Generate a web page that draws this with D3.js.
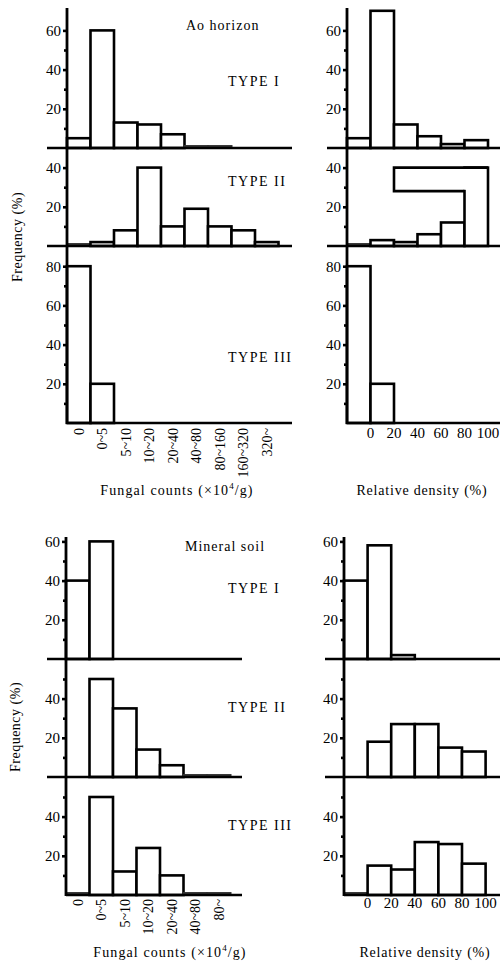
<!DOCTYPE html>
<html><head><meta charset="utf-8">
<script src="https://cdn.jsdelivr.net/npm/d3@7"></script>
<style>
html,body{margin:0;padding:0;background:#fff;}
text{font-family:"Liberation Serif","Times New Roman",serif;fill:#000;}
</style></head>
<body>
<svg id="chart" width="500" height="965"></svg>
<script>
// ---- data ----
const fungalCatsAo = ["0","0~5","5~10","10~20","20~40","40~80","80~160","160~320","320~"];
const fungalCatsMin = ["0","0~5","5~10","10~20","20~40","40~80","80~"];
const densityCats = ["0","0-20","20-40","40-60","60-80","80-100"];
const densityTickLabels = ["0","20","40","60","80","100"];

const aoFungalI   = [5,60,13,12,7,1,1,0,0];
const aoFungalII  = [1,2,8,40,10,19,10,8,2];
const aoFungalIII = [80,20,0,0,0,0,0,0,0];

const aoDensityI   = [5,70,12,6,2,4];
const aoDensityII  = [1,3,2,6,12,40];
const aoDensityIII = [80,20,0,0,0,0];
// overhanging block drawn on the Ao TYPE II density panel: [firstCat, lastCat, low, high]
const aoDensityIIBlock = ["20-40","60-80",28,40];

const minFungalI   = [40,60,0,0,0,0,0];
const minFungalII  = [0,50,35,14,6,1,1];
const minFungalIII = [1,50,12,24,10,1,1];

const minDensityI   = [40,58,2,0,0,0];
const minDensityII  = [0,18,27,27,15,13];
const minDensityIII = [1,15,13,27,26,16];

const typeLabels = ["TYPE I","TYPE II","TYPE III"];

// ---- drawing ----
const svg = d3.select("#chart");
const K = 1.96; // px per percent

function drawGroup(cfg){
  const x = d3.scaleBand().domain(cfg.cats).range([cfg.axisX, cfg.axisX + cfg.bw*cfg.cats.length]).paddingInner(0).paddingOuter(0);
  const g = svg.append("g");
  cfg.panels.forEach((p,i)=>{
    const y = d3.scaleLinear().domain([0,(p.base-p.top)/K]).range([p.base,p.top]);
    const vals = p.values.map((v,j)=>({c:cfg.cats[j],v})).filter(d=>d.v>0);
    g.selectAll(null).data(vals).enter().append("rect")
      .attr("x",d=>x(d.c)).attr("width",x.bandwidth())
      .attr("y",d=>y(d.v)).attr("height",d=>y(0)-y(d.v))
      .attr("fill",d=>d.v<=1?"#8c8c8c":"#fff")
      .attr("stroke",d=>d.v<=1?"#333":"#000")
      .attr("stroke-width",d=>d.v<=1?2:2.6);
    if(p.block){
      const [c0,c1,lo,hi] = p.block;
      const xa = x(c0), xb = x(c1)+x.bandwidth();
      g.append("rect").attr("x",xa).attr("width",xb-xa+2.5).attr("y",y(hi)).attr("height",y(lo)-y(hi)-1.3).attr("fill","#fff");
      g.append("path").attr("d",`M${xb},${y(lo)}H${xa}V${y(hi)}H${xb+x.bandwidth()}`)
        .attr("fill","none").attr("stroke","#000").attr("stroke-width",2.6).attr("stroke-linejoin","miter");
    }
    g.append("line").attr("x1",p.bx0).attr("x2",p.bx1).attr("y1",y(0)).attr("y2",y(0))
      .attr("stroke","#000").attr("stroke-width",2.6);
    const ax = d3.axisLeft(y).tickValues(p.labels).tickSize(4).tickPadding(2).tickFormat(d3.format("d"));
    const ag = g.append("g").attr("transform",`translate(${cfg.axisX},0)`).call(ax);
    ag.select(".domain").remove();
    ag.selectAll(".tick line").attr("stroke","#000").attr("stroke-width",2.6);
    ag.selectAll(".tick text").attr("font-size",15).attr("font-family","Liberation Serif").attr("fill","#000");
    const mg = g.append("g").attr("transform",`translate(${cfg.axisX},0)`).call(d3.axisLeft(y).tickValues(p.minor).tickSize(3).tickFormat(""));
    mg.select(".domain").remove();
    mg.selectAll(".tick line").attr("stroke","#000").attr("stroke-width",2.6);
    if(cfg.typeX){
      svg.append("text").attr("x",cfg.typeX).attr("y",p.typeY).attr("font-size",14)
        .attr("letter-spacing",1.5).text(typeLabels[i]);
    }
  });
  g.append("line").attr("x1",cfg.axisX).attr("x2",cfg.axisX).attr("y1",cfg.axisTop).attr("y2",cfg.panels[cfg.panels.length-1].base+1)
    .attr("stroke","#000").attr("stroke-width",2.8);
  if(cfg.rotated){
    g.selectAll(null).data(cfg.cats).enter().append("text")
      .attr("transform",d=>`translate(${x(d)+x.bandwidth()/2},${cfg.labelY}) rotate(-90)`)
      .attr("text-anchor","end").attr("dy","0.35em").attr("font-size",14).text(d=>d);
  } else {
    g.selectAll(null).data(cfg.cats).enter().append("text")
      .attr("x",d=>x(d)+x.bandwidth()).attr("y",cfg.labelY)
      .attr("text-anchor","middle").attr("font-size",15)
      .text((d,j)=>densityTickLabels[j]);
  }
}

drawGroup({cats:fungalCatsAo, axisX:67, bw:23.5, axisTop:8, rotated:true, labelY:428, typeX:228,
  panels:[
    {base:148, top:8,   values:aoFungalI,   labels:[20,40,60], minor:[10,30,50], bx0:47, bx1:292, typeY:86},
    {base:246, top:148, values:aoFungalII,  labels:[20,40],    minor:[10,30],    bx0:47, bx1:292, typeY:186},
    {base:423, top:246, values:aoFungalIII, labels:[20,40,60,80], minor:[10,30,50,70], bx0:67, bx1:292, typeY:362}
  ]});
drawGroup({cats:densityCats, axisX:347, bw:23.5, axisTop:8, rotated:false, labelY:438,
  panels:[
    {base:148, top:8,   values:aoDensityI,   labels:[20,40,60], minor:[10,30,50], bx0:327, bx1:500},
    {base:246, top:148, values:aoDensityII,  labels:[20,40],    minor:[10,30],    bx0:327, bx1:500, block:aoDensityIIBlock},
    {base:423, top:246, values:aoDensityIII, labels:[20,40,60,80], minor:[10,30,50,70], bx0:347, bx1:500}
  ]});
drawGroup({cats:fungalCatsMin, axisX:66, bw:23.5, axisTop:537, rotated:true, labelY:899, typeX:228,
  panels:[
    {base:659, top:537, values:minFungalI,   labels:[20,40,60], minor:[10,30,50], bx0:47, bx1:242, typeY:593},
    {base:777, top:659, values:minFungalII,  labels:[20,40],    minor:[10,30,50], bx0:47, bx1:242, typeY:712},
    {base:895, top:777, values:minFungalIII, labels:[20,40],    minor:[10,30,50], bx0:66, bx1:242, typeY:830}
  ]});
drawGroup({cats:densityCats, axisX:344, bw:23.6, axisTop:537, rotated:false, labelY:908,
  panels:[
    {base:659, top:537, values:minDensityI,   labels:[20,40,60], minor:[10,30,50], bx0:325, bx1:500},
    {base:777, top:659, values:minDensityII,  labels:[20,40],    minor:[10,30,50], bx0:325, bx1:500},
    {base:895, top:777, values:minDensityIII, labels:[20,40],    minor:[10,30,50], bx0:344, bx1:500}
  ]});

svg.append("text").attr("x",186).attr("y",30).attr("font-size",14).attr("letter-spacing",1).text("Ao horizon");
svg.append("text").attr("x",185).attr("y",551).attr("font-size",14).attr("letter-spacing",1).text("Mineral soil");

function fungalCaption(cx, y){
  const t = svg.append("text").attr("x",cx).attr("y",y).attr("text-anchor","middle").attr("font-size",14).attr("letter-spacing",1.1);
  t.append("tspan").text("Fungal counts (×10");
  t.append("tspan").attr("font-size",9).attr("dy",-6).text("4");
  t.append("tspan").attr("dy",6).text("/g)");
}
fungalCaption(177,495);
fungalCaption(170,957);
svg.append("text").attr("x",422).attr("y",495).attr("text-anchor","middle").attr("font-size",14).attr("letter-spacing",0.8).text("Relative density (%)");
svg.append("text").attr("x",425).attr("y",957).attr("text-anchor","middle").attr("font-size",14).attr("letter-spacing",0.8).text("Relative density (%)");

[[17,237],[15,727]].forEach(([cx,cy])=>{
  svg.append("text").attr("transform",`translate(${cx},${cy}) rotate(-90)`).attr("text-anchor","middle")
    .attr("dy","0.35em").attr("font-size",14).attr("letter-spacing",0.5).text("Frequency (%)");
});
</script>
</body></html>
